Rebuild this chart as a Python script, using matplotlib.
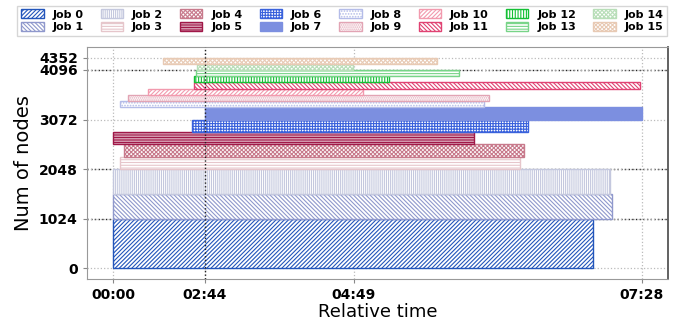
import matplotlib
matplotlib.use("Agg")
import matplotlib.pyplot as plt

plt.rcParams['hatch.linewidth'] = 0.8

jobs = [f"Job {i}" for i in range(16)]
start = [0, 0, 0, 5.6, 9, 0, 66.7, 77.7, 5.6, 12.4, 29.3, 68.4, 68.4, 70, 71, 42]
end = [407, 423, 421, 345, 348, 306, 351.7, 448, 314, 318.6, 211.7, 446.6, 233.8, 293, 203, 274.5]
node_lo = [0, 1024, 1536, 2048, 2304, 2560, 2816, 3072, 3328, 3456, 3584, 3712, 3840, 3968, 4096, 4224]
node_hi = [1024, 1536, 2048, 2304, 2560, 2816, 3072, 3328, 3456, 3584, 3712, 3840, 3968, 4096, 4224, 4352]

xtick_pos = [0, 77.7, 204, 448]
xtick_lab = ["00:00", "02:44", "04:49", "07:28"]
ytick_pos = [0, 1024, 2048, 3072, 4096, 4352]
strong_h = [1024, 2048, 4096]
strong_v = [77.7]

edge_cols = ['#2255bb', '#8f98cc', '#c4c8de', '#e6c6cb', '#c87a8c', '#a01848',
             '#3a62dc', '#7c8fe0', '#b4bce8', '#e2a4b4', '#f29aae', '#e04272',
             '#14c035', '#78d488', '#b8deb8', '#e8cab4']
face_cols = ['white', 'white', 'white', 'white', 'white', 'white',
             'white', '#7c8fe0', 'white', 'white', 'white', 'white',
             'white', 'white', 'white', 'white']
hatches = ['/' * 8, '\\' * 8, '|' * 8, '-' * 6, 'x' * 8, '-' * 10,
           '+' * 6, '', '.' * 6, '.' * 8, '/' * 8, '\\' * 8,
           '|' * 6, '-' * 6, 'x' * 8, 'x' * 8]

fig = plt.figure(figsize=(6.89, 3.31), dpi=100)
ax = fig.add_axes([0.126, 0.157, 0.8435, 0.701])
ax.use_sticky_edges = False

handles = []
for i in range(16):
    b = ax.barh(node_lo[i], end[i] - start[i], left=start[i],
                height=node_hi[i] - node_lo[i], align='edge',
                facecolor=face_cols[i], edgecolor=edge_cols[i],
                hatch=hatches[i], linewidth=1.0, label=jobs[i], zorder=2)
    handles.append(b)
ax.margins(0.05)

ax.set_xticks(xtick_pos)
ax.set_xticklabels(xtick_lab, fontweight='bold', fontsize=10)
ax.set_yticks(ytick_pos)
ax.set_yticklabels([str(v) for v in ytick_pos], fontweight='bold', fontsize=10)
ax.grid(True, linestyle=':', color='#bbbbbb', linewidth=0.9, zorder=0)
for h in strong_h:
    ax.axhline(h, linestyle=':', color='#222222', linewidth=1.0, zorder=1)
for v in strong_v:
    ax.axvline(v, linestyle=':', color='#222222', linewidth=1.0, zorder=3)

for s in ax.spines.values():
    s.set_color('#999999')
ax.spines['right'].set_color('#555555')
ax.spines['right'].set_linewidth(1.3)
ax.tick_params(colors='#888888', labelcolor='black', length=3)

ax.set_xlabel("Relative time", fontsize=13, labelpad=1)
ax.set_ylabel("Num of nodes", fontsize=14, labelpad=4)

fig.legend(handles=handles, loc='upper center', bbox_to_anchor=(0.497, 1.0),
           ncol=8, prop={'weight': 'bold', 'size': 8}, frameon=True,
           handlelength=2.0, handleheight=0.8, columnspacing=1.55,
           labelspacing=0.25, borderpad=0.35, edgecolor='#cccccc',
           fancybox=False)

fig.savefig("out.png", dpi=100)
